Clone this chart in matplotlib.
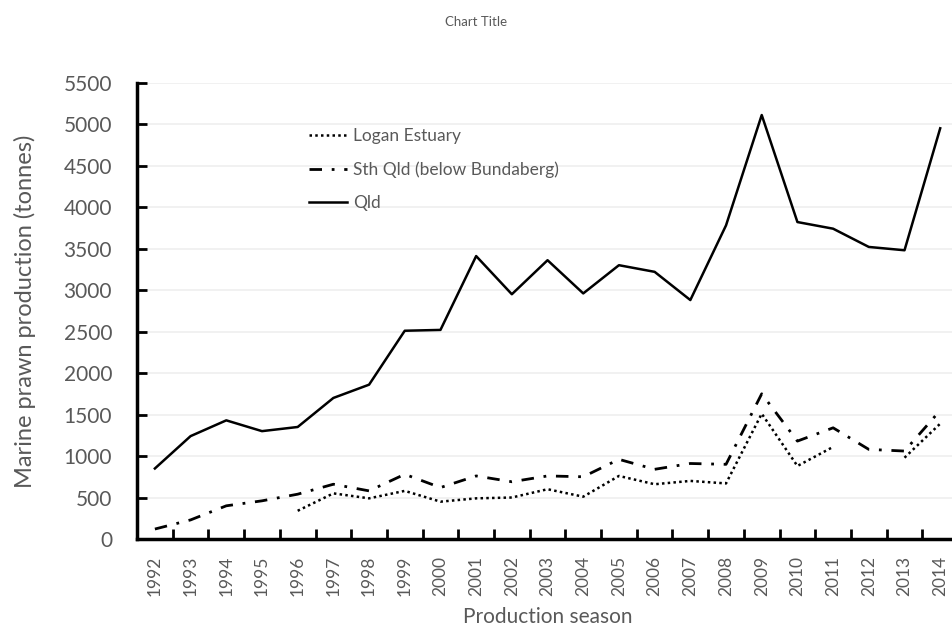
import matplotlib.pyplot as plt
import numpy as np

plt.rcParams['font.family'] = ['Lato', 'DejaVu Sans']

# data
years = list(range(1992, 2015))
qld = [850, 1240, 1430, 1300, 1350, 1700, 1860, 2510, 2520, 3410, 2950, 3360,
       2960, 3300, 3220, 2880, 3780, 5110, 3820, 3740, 3520, 3480, 4950]
sth_qld = [120, 230, 400, 460, 540, 660, 580, 780, 620, 760, 690, 760,
           750, 960, 840, 910, 900, 1750, 1180, 1340, 1080, 1060, 1550]
logan = [np.nan, np.nan, np.nan, np.nan, 340, 550, 490, 580, 450, 490, 500, 600,
         510, 760, 660, 700, 670, 1510, 880, 1110, np.nan, 980, 1390]

grey = '#595959'

fig = plt.figure(figsize=(9.53, 6.31), dpi=100)
ax = fig.add_axes([0.1438, 0.1458, 0.8615, 0.7232])

x = np.arange(len(years))
ax.plot(x, logan, color='black', lw=1.8, linestyle=(0, (1, 1.3)), label='Logan Estuary')
ax.plot(x, sth_qld, color='black', lw=2.0, linestyle=(0, (4.5, 3.5, 1, 3.5)),
        label='Sth Qld (below Bundaberg)')
ax.plot(x, qld, color='black', lw=1.8, label='Qld')

ax.set_xlim(-0.5, len(years) - 0.5)
ax.set_ylim(0, 5500)
ax.set_yticks(range(0, 5501, 500))
ax.set_xticks(x)
ax.set_xticklabels([str(y) for y in years], rotation=90, fontsize=12.5, color=grey)
ax.set_xticks(np.arange(len(years) + 1) - 0.5, minor=True)
ax.tick_params(axis='x', which='major', length=0, pad=12)
ax.tick_params(axis='x', which='minor', direction='in', length=7, width=2, color='black')
ax.tick_params(axis='y', direction='in', length=7, width=2, color='black',
               labelsize=15, labelcolor=grey, pad=18)

ax.grid(axis='y', color='#efefef', lw=1.2)
ax.set_axisbelow(True)
for side in ['top', 'right']:
    ax.spines[side].set_visible(False)
for side in ['left', 'bottom']:
    ax.spines[side].set_linewidth(2.5)
    ax.spines[side].set_color('black')

ax.set_ylabel('Marine prawn production (tonnes)', fontsize=17, color=grey, labelpad=20)
ax.set_xlabel('Production season', fontsize=15, color=grey, labelpad=8)
fig.text(0.5, 0.965, 'Chart Title', ha='center', va='center', fontsize=9.5, color=grey)

ax.legend(loc='upper left', bbox_to_anchor=(0.19, 0.935), frameon=False, fontsize=12.5,
          labelcolor=grey, handlelength=2.2, handletextpad=0.35, labelspacing=1.0)

fig.savefig('out.png', dpi=100)
